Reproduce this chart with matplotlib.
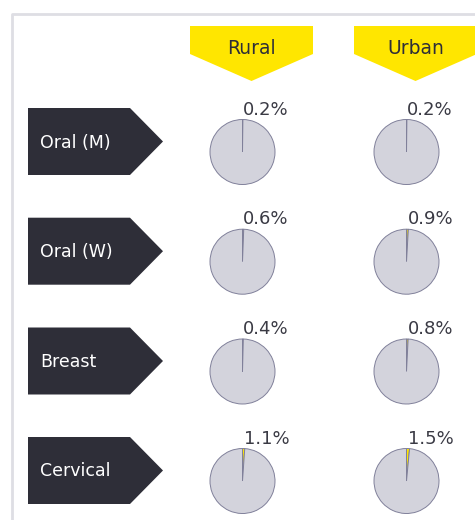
import matplotlib
matplotlib.use('Agg')
import matplotlib.pyplot as plt
import matplotlib.patches as mpatches

# chart values
categories = ['Oral (M)', 'Oral (W)', 'Breast', 'Cervical']
settings = ['Rural', 'Urban']
rural = [0.2, 0.6, 0.4, 1.1]
urban = [0.2, 0.9, 0.8, 1.5]

dark = '#2e2e38'
yellow = '#ffe600'
pie_fill = '#d3d3dc'
pie_edge = '#80809a'

W, H = 475, 520
fig = plt.figure(figsize=(W / 100, H / 100), dpi=100)
ax = fig.add_axes([0, 0, 1, 1])


def py(y):
    # pixel row (from top) -> axes y
    return H - y


# light frame round the panel
ax.plot([12, 12, W + 5], [py(H + 5), py(14), py(14)], color='#dedee4', linewidth=2, solid_capstyle='butt')

# yellow column headers
col_x = [251.5, 415.5]
for name, cx in zip(settings, col_x):
    pts = [(cx - 61.5, py(26)), (cx + 61.5, py(26)), (cx + 61.5, py(54)),
           (cx, py(81)), (cx - 61.5, py(54))]
    ax.add_patch(mpatches.Polygon(pts, closed=True, facecolor=yellow, edgecolor='none'))
    ax.text(cx, py(48), name, ha='center', va='center', fontsize=13.5, color=dark)

# dark row labels
row_y = [141.5, 251.2, 361, 470.5]
for name, cy in zip(categories, row_y):
    top, bot = cy - 33.5, cy + 33.5
    pts = [(28, py(top)), (130, py(top)), (163, py(cy)), (130, py(bot)), (28, py(bot))]
    ax.add_patch(mpatches.Polygon(pts, closed=True, facecolor=dark, edgecolor='none'))
    ax.text(40, py(cy + 1), name, ha='left', va='center', fontsize=12.5, color='white')

# pies, small slice in yellow from twelve o'clock
pie_cx = [242.5, 406.5]
r = 32.5
for i, cy in enumerate(row_y):
    for cx, vals in zip(pie_cx, [rural, urban]):
        v = vals[i]
        ax.pie([v, 100 - v], labels=[f'{v}%', ''], colors=[yellow, pie_fill],
               startangle=90, counterclock=False, center=(cx, py(cy + 10.5)), radius=r,
               labeldistance=1.3, frame=True,
               wedgeprops=dict(edgecolor=pie_edge, linewidth=0.7),
               textprops=dict(fontsize=13, color='#3a3a44'))

ax.set_xlim(0, W)
ax.set_ylim(0, H)
ax.set_aspect('auto')
ax.axis('off')

fig.savefig('out.png', dpi=100)
